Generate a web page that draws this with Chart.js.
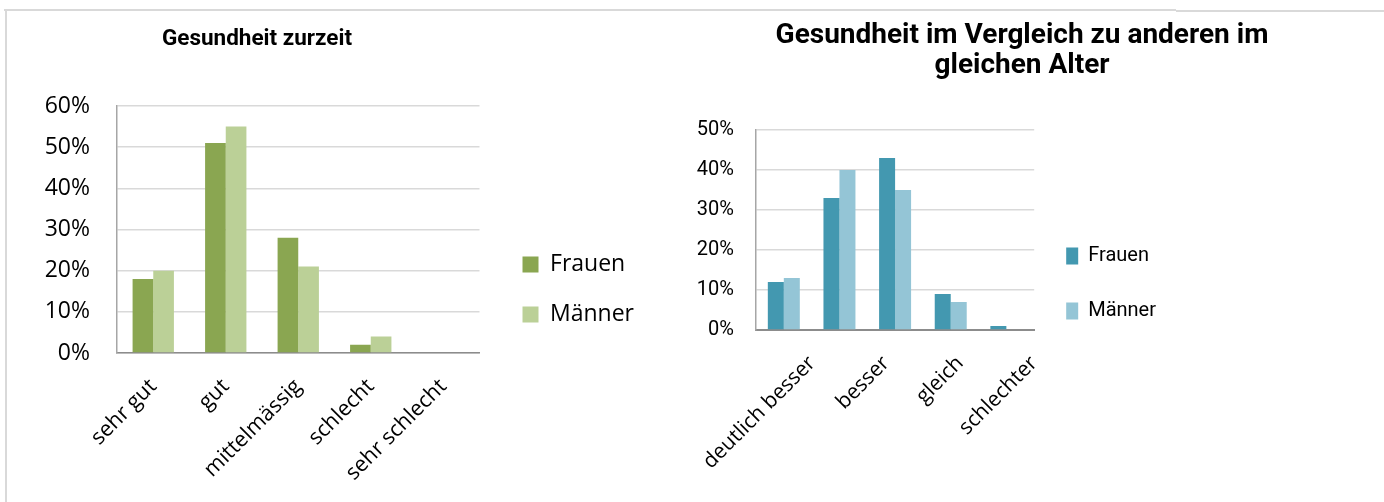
<!DOCTYPE html>
<html>
<head>
<meta charset="utf-8">
<script src="https://cdn.jsdelivr.net/npm/chart.js@4.4.1/dist/chart.umd.min.js"></script>
<style>
html, body { margin: 0; padding: 0; background: #fff; overflow: hidden; }
#page { position: relative; width: 1384px; height: 502px; }
canvas { position: absolute; top: 0; }
.frame { position: absolute; background: #d9d9d9; }
</style>
</head>
<body>
<div id="page">
  <div class="frame" style="left:4px;top:9px;width:1172px;height:1.5px"></div>
  <div class="frame" style="left:1176px;top:9.5px;width:208px;height:2px"></div>
  <div class="frame" style="left:4.5px;top:9px;width:2px;height:493px"></div>
  <canvas id="healthNow" width="680" height="502" style="left:0;width:680px;height:502px"></canvas>
  <canvas id="healthCompare" width="824" height="502" style="left:560px;width:824px;height:502px"></canvas>
</div>
<script>
// Gesundheit zurzeit
const nowLabels = ['sehr gut', 'gut', 'mittelmässig', 'schlecht', 'sehr schlecht'];
const nowFrauen = [18, 51, 28, 2, 0];
const nowMaenner = [20, 55, 21, 4, 0];
const nowAxisMax = 60;

// Gesundheit im Vergleich zu anderen im gleichen Alter
const cmpLabels = ['deutlich besser', 'besser', 'gleich', 'schlechter', ''];
const cmpFrauen = [12, 33, 43, 9, 1];
const cmpMaenner = [13, 40, 35, 7, 0];
const cmpAxisMax = 50;

const seriesNames = ['Frauen', 'Männer'];

// moves the title / legend boxes after Chart.js has laid them out
const placeBlocks = {
    id: 'placeBlocks',
    afterLayout(chart, args, opts) {
        const t = chart.titleBlock;
        if (t && opts.titleX !== undefined) {
            t.left = opts.titleX - 400;
            t.right = opts.titleX + 400;
        }
        const lg = chart.legend;
        if (lg) {
            lg.left += opts.legendDx || 0;
            lg.right += opts.legendDx || 0;
            lg.top += opts.legendDy || 0;
            lg.bottom += opts.legendDy || 0;
        }
    }
};

const pct = v => v + '%';

// left chart
new Chart(document.getElementById('healthNow'), {
    type: 'bar',
    data: {
        labels: nowLabels,
        datasets: [
            { label: seriesNames[0], data: nowFrauen, backgroundColor: '#8aa651', xAxisID: 'x' },
            { label: seriesNames[1], data: nowMaenner, backgroundColor: '#bbd097', xAxisID: 'x' }
        ]
    },
    plugins: [placeBlocks],
    options: {
        responsive: false,
        animation: false,
        datasets: { bar: { categoryPercentage: 0.57, barPercentage: 1, borderWidth: 0 } },
        layout: { padding: { left: 0, right: 52, top: 0, bottom: 0 } },
        plugins: {
            title: {
                display: true,
                text: 'Gesundheit zurzeit',
                color: '#000',
                font: { family: 'Roboto', size: 22.5, weight: 'bold' },
                padding: { top: 26, bottom: 53 }
            },
            legend: {
                position: 'right',
                align: 'end',
                fullSize: false,
                labels: {
                    boxWidth: 16,
                    boxHeight: 16,
                    padding: 27,
                    color: '#000',
                    font: { family: 'Open Sans', size: 23 }
                }
            },
            tooltip: { enabled: false },
            placeBlocks: { titleX: 257, legendDx: 16, legendDy: 0 }
        },
        scales: {
            x: {
                grid: { display: false, drawTicks: false },
                border: { color: '#8c8c8c', width: 1.5 },
                ticks: {
                    color: '#000',
                    font: { family: 'Open Sans', size: 21.5 },
                    minRotation: 45,
                    maxRotation: 45,
                    autoSkip: false,
                    padding: 21
                },
                afterFit: s => { s.height = 149; }
            },
            y: {
                min: 0,
                max: nowAxisMax,
                ticks: {
                    stepSize: 10,
                    callback: pct,
                    color: '#000',
                    font: { family: 'Open Sans', size: 23 },
                    padding: 27
                },
                grid: { color: '#d9d9d9', lineWidth: 1.5, drawTicks: false },
                border: { color: '#a6a6a6', width: 1.5 },
                afterFit: s => { s.width = 117; }
            }
        }
    }
});

// right chart (canvas starts at x=560 of the page)
new Chart(document.getElementById('healthCompare'), {
    type: 'bar',
    data: {
        labels: cmpLabels,
        datasets: [
            { label: seriesNames[0], data: cmpFrauen, backgroundColor: '#4398b0', xAxisID: 'x' },
            { label: seriesNames[1], data: cmpMaenner, backgroundColor: '#94c5d6', xAxisID: 'x' }
        ]
    },
    plugins: [placeBlocks],
    options: {
        responsive: false,
        animation: false,
        datasets: { bar: { categoryPercentage: 0.575, barPercentage: 1, borderWidth: 0 } },
        layout: { padding: { left: 0, right: 215, top: 0, bottom: 0 } },
        plugins: {
            title: {
                display: true,
                text: ['Gesundheit im Vergleich zu anderen im', 'gleichen Alter'],
                color: '#000',
                font: { family: 'Roboto', size: 28, weight: 'bold', lineHeight: 1.07 },
                padding: { top: 21, bottom: 49 }
            },
            legend: {
                position: 'right',
                align: 'end',
                fullSize: false,
                labels: {
                    boxWidth: 12,
                    boxHeight: 17,
                    padding: 35,
                    color: '#000',
                    font: { family: 'Roboto', size: 20 }
                }
            },
            tooltip: { enabled: false },
            placeBlocks: { titleX: 462, legendDx: -3, legendDy: 26 }
        },
        scales: {
            x: {
                grid: { display: false, drawTicks: false },
                border: { color: '#8c8c8c', width: 2 },
                ticks: { display: false },
                afterFit: s => { s.height = 0; }
            },
            // category names sit on their own axis, spaced wider than the bars
            xl: {
                type: 'linear',
                position: 'bottom',
                offset: false,
                min: -0.757,
                max: 3,
                grid: { display: false, drawTicks: false },
                border: { display: false },
                ticks: {
                    stepSize: 1,
                    autoSkip: false,
                    minRotation: 45,
                    maxRotation: 45,
                    padding: 21,
                    color: '#000',
                    font: { family: 'Open Sans', size: 21 },
                    callback: v => (Number.isInteger(v) && cmpLabels[v]) || ''
                },
                afterFit: s => { s.height = 172; }
            },
            y: {
                min: 0,
                max: cmpAxisMax,
                ticks: {
                    stepSize: 10,
                    callback: pct,
                    color: '#000',
                    font: { family: 'Roboto', size: 20 },
                    padding: 22
                },
                grid: { color: '#d9d9d9', lineWidth: 1.5, drawTicks: false },
                border: { color: '#a6a6a6', width: 1.5 },
                afterFit: s => { s.width = 196; }
            }
        }
    }
});
</script>
</body>
</html>
